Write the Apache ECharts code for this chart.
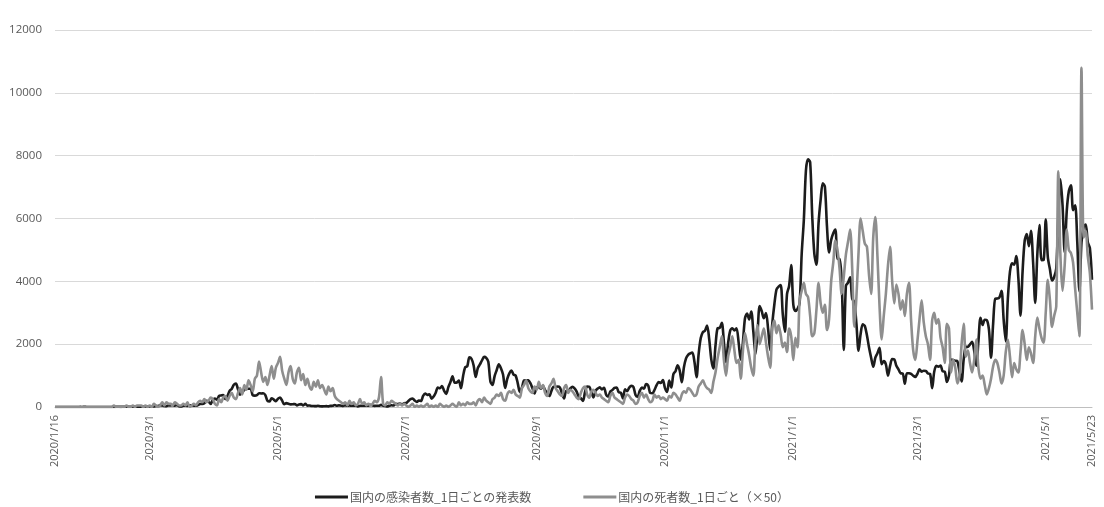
<!DOCTYPE html>
<html lang="ja">
<head>
<meta charset="utf-8">
<title>国内の感染者数と死者数</title>
<script src="https://cdn.jsdelivr.net/npm/echarts@6/dist/echarts.min.js"></script>
<style>
  html, body { margin: 0; padding: 0; background: #ffffff; }
  #chart { width: 1104px; height: 507px; }
</style>
</head>
<body>
<div id="chart"></div>
<script>
// First day of the daily series
const startDate = [2020, 1, 16];

// Daily newly announced infections in Japan, 2020/1/16 - 2021/5/23 (one row per month)
const casesDaily = [
  1,0,0,0,0,0,0,0,1,1,2,0,3,1,4,2,
  1,0,1,0,0,0,1,0,0,1,0,0,2,6,9,5,6,6,12,10,9,12,15,13,8,16,18,19,15,
  14,18,14,33,32,59,47,33,26,54,52,55,41,63,26,15,44,39,36,51,50,43,40,62,93,96,123,201,173,94,221,
  266,236,351,368,383,254,351,515,576,708,743,563,391,459,548,583,579,584,373,361,376,440,432,437,378,197,175,280,235,187,
  262,301,201,87,123,100,82,87,97,49,81,91,53,99,43,50,31,30,27,38,25,21,24,28,21,35,38,66,41,53,42,
  32,52,40,47,39,45,47,16,38,40,41,41,39,72,48,36,41,41,68,41,34,19,44,54,47,105,92,110,86,120,
  125,193,249,272,208,160,207,192,354,430,385,407,267,332,454,623,595,664,510,419,631,795,981,771,779,839,597,982,1264,1300,1580,
  1536,1331,958,1237,1355,1485,1595,1565,1442,815,700,985,1176,1359,1234,1032,607,897,1072,1159,1032,1000,754,480,619,846,850,847,758,596,431,
  626,629,580,668,537,436,350,509,646,642,654,626,437,271,508,506,591,641,592,487,322,280,196,480,654,645,470,307,518,587,
  630,557,612,395,329,494,541,606,619,474,453,274,565,505,617,672,635,384,327,512,618,584,731,683,445,439,541,694,792,766,858,
  602,480,839,622,1047,1139,1328,1159,786,1264,1547,1662,1705,1730,1439,949,1694,2193,2386,2425,2596,2168,1518,1227,1953,2505,2517,2684,2068,1430,
  2030,2432,2508,2436,2508,2058,1503,2026,2810,2971,2788,3041,2398,1681,2389,3211,3048,2823,2992,2497,1812,2651,3271,3740,3831,3878,2947,2395,3595,3853,4520,
  3256,3058,3123,3308,4893,5945,7528,7882,7793,6064,4877,4530,5854,6604,7119,7014,5752,4916,5320,5531,5647,4715,4714,3990,1814,3853,3960,4128,3446,3337,2654,
  1792,2324,2631,2576,2285,1894,1570,1280,1569,1713,1882,1359,1462,1361,1000,1308,1526,1516,1310,1201,1074,1069,738,1076,1074,1054,996,957,
  1057,1200,1127,1153,1149,1065,1054,599,1126,1313,1284,1319,1134,1125,797,1000,1509,1497,1473,1457,1118,817,1515,1917,1915,1994,2072,1785,1316,2087,2843,
  2613,2778,2766,2468,1572,2656,3447,3451,3489,3697,2779,2091,3453,4310,4574,4532,4802,4093,2909,4319,5292,5504,5119,5606,4606,3315,4855,5792,4673,4679,
  5966,4770,4386,4026,4138,4403,6054,7244,6417,4924,6242,6876,7057,6266,6419,5251,3679,5229,5726,5811,5247,5054,4052
];

// Daily deaths in Japan over the same days (plotted ×50)
const deathsDaily = [
  0,0,0,0,0,0,0,0,0,0,0,0,0,0,0,0,
  0,0,0,0,0,0,0,0,0,0,0,0,1,0,0,0,0,0,1,0,0,1,0,1,1,1,0,1,0,
  1,0,2,1,0,1,3,1,3,2,2,1,3,2,1,1,2,1,3,0,1,2,1,3,4,3,5,3,4,6,5,
  2,1,5,3,6,7,4,7,9,6,5,9,12,8,14,11,17,14,10,18,20,29,22,16,19,14,20,26,18,25,
  28,32,23,18,14,22,26,18,15,22,25,17,21,14,18,13,11,16,13,17,12,14,11,8,13,10,12,7,5,4,3,
  2,3,1,4,2,3,1,2,5,2,3,1,2,1,2,4,3,6,19,2,1,3,2,4,3,2,1,2,1,2,
  1,0,1,2,0,1,0,1,0,1,2,0,1,0,1,0,2,1,0,1,0,1,2,1,0,3,1,2,1,3,2,
  2,3,1,4,5,3,6,4,3,2,5,6,8,7,9,5,4,8,10,9,11,8,7,6,12,14,17,12,10,9,13,
  11,16,12,14,9,7,13,15,18,12,10,8,7,12,14,9,11,10,8,6,5,9,12,13,8,6,10,11,9,7,
  8,6,5,4,3,7,9,6,5,4,3,2,6,8,7,5,4,2,3,7,9,6,8,5,3,4,8,6,7,5,6,
  5,4,7,6,9,8,6,4,8,10,9,12,11,9,7,8,13,15,17,14,12,11,9,16,22,31,38,45,30,20,
  32,38,45,36,28,30,18,35,47,40,33,25,20,42,52,40,45,50,41,32,25,50,55,47,52,46,38,41,35,50,45,
  30,44,38,68,74,79,72,70,58,45,47,62,79,66,60,65,49,56,80,92,106,100,88,72,83,97,105,113,88,51,70,
  98,120,112,104,102,84,72,108,121,96,64,43,58,72,90,102,80,66,78,72,62,68,58,72,79,55,36,30,
  42,56,68,54,45,40,30,55,60,53,56,44,38,28,53,50,22,30,25,15,20,40,53,32,36,28,22,30,43,25,18,
  20,14,8,12,18,26,30,28,22,15,20,35,43,32,19,28,24,22,35,49,40,30,38,34,28,45,57,50,44,41,
  60,81,68,51,58,64,150,96,74,90,113,100,98,92,75,60,45,216,108,112,96,85,62
];
const deathScale = 50;

// Dates shown under the horizontal axis
const tickLabels = [
  '2020/1/16', '2020/3/1', '2020/5/1', '2020/7/1', '2020/9/1',
  '2020/11/1', '2021/1/1', '2021/3/1', '2021/5/1', '2021/5/23'
];

const seriesNames = ['国内の感染者数_1日ごとの発表数', '国内の死者数_1日ごと（×50）'];

// One category per day
const days = [];
for (let i = 0; i < casesDaily.length; i++) {
  const d = new Date(startDate[0], startDate[1] - 1, startDate[2] + i);
  days.push(d.getFullYear() + '/' + (d.getMonth() + 1) + '/' + d.getDate());
}
const deathsScaled = deathsDaily.map(v => v * deathScale);

const labelFont = "'Open Sans', 'Noto Sans CJK JP', sans-serif";
const chart = echarts.init(document.getElementById('chart'), null, { renderer: 'canvas' });
chart.setOption({
  animation: false,
  backgroundColor: '#ffffff',
  grid: { left: 55, right: 12, top: 30, bottom: 100, containLabel: false },
  legend: {
    left: 'center',
    top: 486,
    itemWidth: 33,
    itemHeight: 3,
    itemGap: 52,
    icon: 'rect',
    textStyle: { color: '#595959', fontSize: 12, fontFamily: "'Noto Sans CJK JP', sans-serif", padding: [0, 0, 0, -3] },
    data: seriesNames
  },
  xAxis: {
    type: 'category',
    data: days,
    boundaryGap: false,
    axisLine: { lineStyle: { color: '#bfbfbf', width: 1 } },
    axisTick: { show: false },
    splitLine: { show: false },
    axisLabel: {
      interval: (index, value) => tickLabels.indexOf(value) !== -1,
      rotate: 90,
      margin: 8,
      color: '#595959',
      fontSize: 11,
      fontFamily: labelFont
    }
  },
  yAxis: {
    type: 'value',
    min: 0,
    max: 12000,
    interval: 2000,
    axisLine: { show: false },
    axisTick: { show: false },
    splitLine: { lineStyle: { color: '#d9d9d9', width: 1 } },
    axisLabel: {
      color: '#595959',
      fontSize: 11.5,
      fontFamily: labelFont,
      margin: 13,
      formatter: v => String(v)
    }
  },
  series: [
    {
      name: seriesNames[0],
      type: 'line',
      data: casesDaily,
      symbol: 'none',
      smooth: 0.3,
      itemStyle: { color: '#1c1c1c' },
      lineStyle: { color: '#1c1c1c', width: 2.6 }
    },
    {
      name: seriesNames[1],
      type: 'line',
      data: deathsScaled,
      symbol: 'none',
      smooth: 0.3,
      itemStyle: { color: '#8e8e8e' },
      lineStyle: { color: '#8e8e8e', width: 2.6 }
    }
  ]
});
</script>
</body>
</html>
